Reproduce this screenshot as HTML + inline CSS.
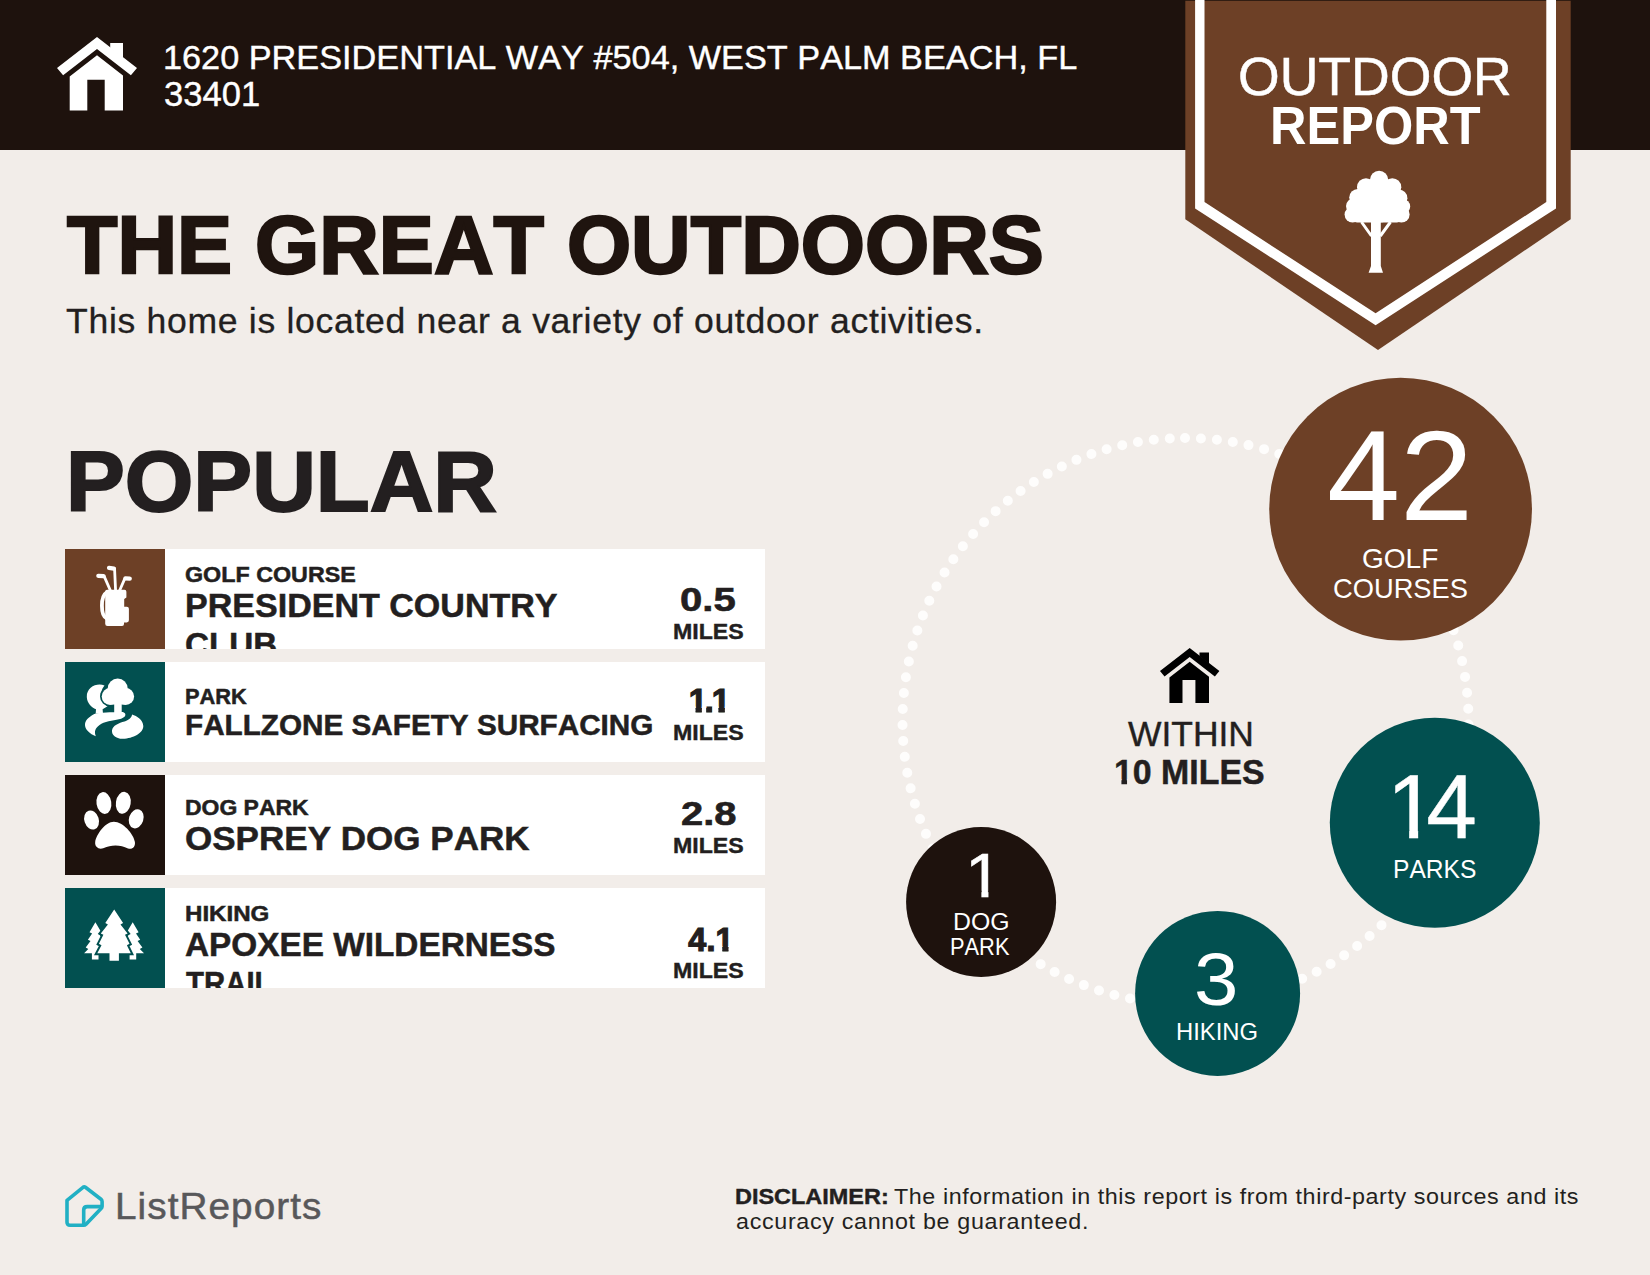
<!DOCTYPE html><html lang="en"><head><meta charset="utf-8"><title>Outdoor Report</title>
<style>
*{box-sizing:border-box;margin:0;padding:0}
html,body{width:1650px;height:1275px;overflow:hidden;background:#f2ede9}
body{position:relative;font-family:"Liberation Sans",sans-serif;font-kerning:none;-webkit-font-smoothing:antialiased}
.t{position:absolute;white-space:nowrap;transform-origin:0 50%;display:block}
.abs{position:absolute}
#hdr{position:absolute;left:0;top:0;width:1650px;height:149.5px;background:#1e120d}
.row{position:absolute;left:65px;width:700px;height:100px;background:#fff;overflow:hidden}
.row .ic{position:absolute;left:0;top:0;width:100px;height:100px}
.circ{position:absolute;border-radius:50%}
svg{position:absolute;overflow:visible}
</style></head><body>
<div id="hdr"></div>
<svg style="left:57.3px;top:37.3px" width="80" height="73.6" viewBox="57.3 37.3 80 73.6" fill="#fff"><polygon points="97.3,37.3 137.3,68.2 131.2,75.6 97.3,49.3 63.4,75.6 57.3,68.2"/><polygon points="97.3,55.6 123.3,75.8 123.3,110.9 105,110.9 105,80 87.6,80 87.6,110.9 70,110.9 70,76.8"/><polygon points="110.5,43.3 123.3,43.3 123.3,58.5 110.5,48.5"/></svg>
<span class="t" style="font-size:34.0px;line-height:34px;font-weight:400;color:#fff;-webkit-text-stroke:0.4px #fff;transform:scaleX(1.0080);left:163.09px;top:40.40px;">1620 PRESIDENTIAL WAY #504, WEST PALM BEACH, FL</span>
<span class="t" style="font-size:34.3px;line-height:34px;font-weight:400;color:#fff;-webkit-text-stroke:0.4px #fff;transform:scaleX(1.0076);left:164.38px;top:77.40px;">33401</span>
<svg style="left:0;top:0" width="1650" height="360" viewBox="0 0 1650 360"><polygon fill="#6d4026" points="1185.3,0.7 1570.7,0.7 1570.7,219.3 1378,350 1185.3,219.3"/><path fill="#fff" fill-rule="evenodd" d="M1195.1 0V208.4L1375.6 325.2L1556 208.4V0Z M1204.5 0V202.1L1375.6 313.3L1546.3 202.1V0Z"/><g fill="#fff"><circle cx="1379.1" cy="179.9" r="9.2"/><circle cx="1366" cy="187.2" r="9"/><circle cx="1392.3" cy="187.2" r="9"/><circle cx="1357.8" cy="197.6" r="8.6"/><circle cx="1398.8" cy="198.2" r="8.6"/><circle cx="1353.6" cy="206" r="7.6"/><circle cx="1402.8" cy="206.6" r="7.4"/><circle cx="1352.6" cy="214.6" r="8"/><circle cx="1401.4" cy="214.4" r="8.2"/><ellipse cx="1378" cy="202" rx="24" ry="20.5"/><rect x="1352" y="207" width="50" height="15.4" rx="5"/><path d="M1371 221H1380.8V266L1383 272.7H1368.6L1371 266Z"/></g><path d="M1371.5 236L1361.5 222M1380.3 236L1390.5 222" stroke="#fff" stroke-width="3" fill="none"/></svg>
<span class="t" style="font-size:53.9px;line-height:54px;font-weight:400;color:#fff;-webkit-text-stroke:0.5px #fff;transform:scaleX(0.9940);left:1238.41px;top:49.15px;">OUTDOOR</span>
<span class="t" style="font-size:52.9px;line-height:53px;font-weight:700;color:#fff;transform:scaleX(0.9555);left:1269.92px;top:99.40px;">REPORT</span>
<span class="t" style="font-size:81.8px;line-height:82px;font-weight:700;color:#1f140f;-webkit-text-stroke:2.4px #1f140f;transform:scaleX(1.0092);left:66.97px;top:204.40px;">THE GREAT OUTDOORS</span>
<span class="t" style="font-size:34.9px;line-height:35px;font-weight:400;color:#231f20;-webkit-text-stroke:0.3px #231f20;letter-spacing:0.668px;transform:scaleX(1.0200);left:65.75px;top:302.55px;">This home is located near a variety of outdoor activities.</span>
<span class="t" style="font-size:85.5px;line-height:86px;font-weight:700;color:#231f20;-webkit-text-stroke:2.0px #231f20;transform:scaleX(1.0311);left:65.50px;top:438.50px;">POPULAR</span>
<div class="row" style="top:549px">
<div class="ic"><svg style="left:0;top:0" width="100" height="100" viewBox="65 549 100 100"><rect x="65" y="549" width="100" height="100" fill="#6d4026"/><g fill="none" stroke="#fff" stroke-linecap="round" stroke-linejoin="round"><path stroke-width="2.8" d="M110.6 591L104.2 576.4M115.6 591L114.6 569.2M119.4 591L124.8 578.6"/><path stroke-width="4.2" d="M98.3 575.8L103.6 576.2M109 567.9L114 568.6M125.4 578.3L129.8 578.6"/><path stroke-width="3.8" d="M106.8 592.3C100.3 596 100.3 616 106.8 618.6"/></g><path fill="#fff" d="M107 589.8H124.5Q126.4 589.8 126.4 591.8V597.5L124.2 599V606.7H126.8Q128.9 606.7 128.9 608.8V620.3Q128.9 622.4 126.8 622.4H124V623.9Q124 625.9 122 625.9H107.5Q105.2 625.9 105.2 623.7V591.8Q105.2 589.8 107 589.8Z"/></svg></div>
<span class="t" style="font-size:22.2px;line-height:22px;font-weight:700;color:#231f20;-webkit-text-stroke:0.5px #231f20;transform:scaleX(1.0495);left:120.29px;top:14.65px;">GOLF COURSE</span>
<span class="t" style="font-size:33.0px;line-height:33px;font-weight:700;color:#231f20;-webkit-text-stroke:0.5px #231f20;transform:scaleX(1.0314);left:119.67px;top:40.45px;">PRESIDENT COUNTRY</span>
<span class="t" style="font-size:33.0px;line-height:33px;font-weight:700;color:#231f20;-webkit-text-stroke:0.5px #231f20;transform:scaleX(1.0068);left:120.39px;top:78.85px;">CLUB</span>
<span class="t" style="font-size:34.0px;line-height:34px;font-weight:700;color:#231f20;-webkit-text-stroke:0.6px #231f20;transform:scaleX(1.1785);left:614.62px;top:33.10px;">0.5</span>
<span class="t" style="font-size:21.9px;line-height:22px;font-weight:700;color:#231f20;-webkit-text-stroke:0.4px #231f20;transform:scaleX(1.0573);left:607.65px;top:71.70px;">MILES</span>
</div>
<div class="row" style="top:662px">
<div class="ic"><svg style="left:0;top:0" width="100" height="100" viewBox="-10 -10 100 100"><rect x="-10" y="-10" width="100" height="100" fill="#025050"/><g fill="#fff"><path d="M29.5 13.5C22 10.5 11.5 15 11.8 25C12 31 16.5 35.5 21 37.2L20.7 41.5L28 41.8L27.6 37.3L32.5 34.2C26 30 23.5 21 29.5 13.5Z"/><g stroke="#025050" stroke-width="3.4"><circle cx="42.7" cy="16.6" r="10"/><circle cx="35.2" cy="24.4" r="8.5"/><circle cx="50.6" cy="24.4" r="8.5"/></g><circle cx="42.7" cy="16.6" r="10"/><circle cx="35.2" cy="24.4" r="8.5"/><circle cx="50.6" cy="24.4" r="8.5"/><rect x="36" y="20" width="14" height="12.5"/><rect x="39.2" y="30" width="7.5" height="12"/><path d="M20.6 41.5C30 40 40 40.3 46.7 40C50 40 51.5 42.5 49.5 44.8C46 48 38 48 31 50C24 52 20.5 56 20 59.5C19.8 61.5 20.5 63 20.8 64.2C15 62 9.5 57.5 10 52C10.5 47 16 43.5 20.6 41.5Z"/><path d="M57 42.6C62 44 68 48 68.3 54C68.5 61 58 66.5 48 66.8C41 67 36.5 63 37 58.5C37.5 53.5 44 51 49.5 49.5C53.5 48.3 56.8 46 57 42.6Z"/></g></svg></div>
<span class="t" style="font-size:21.8px;line-height:22px;font-weight:700;color:#231f20;-webkit-text-stroke:0.5px #231f20;transform:scaleX(0.9998);left:120.49px;top:23.65px;">PARK</span>
<span class="t" style="font-size:28.8px;line-height:29px;font-weight:700;color:#231f20;-webkit-text-stroke:0.5px #231f20;transform:scaleX(1.0309);left:119.96px;top:48.85px;">FALLZONE SAFETY SURFACING</span>
<span class="t" style="font-size:33.0px;line-height:33px;font-weight:700;color:#231f20;-webkit-text-stroke:1.2px #231f20;letter-spacing:-2.298px;clip-path:polygon(-10.0px -10.0px,59.0px -10.0px,59.0px 39.0px,42.5px 39.0px,42.5px 22.7px,36.1px 22.7px,36.1px 39.0px,29.7px 39.0px,29.7px 22.7px,23.7px 22.7px,23.7px 39.0px,17.5px 39.0px,17.5px 22.7px,13.1px 22.7px,13.1px 39.0px,6.8px 39.0px,6.8px 22.7px,-0.0px 22.7px,-0.0px 39.0px,-10.0px 39.0px);left:623.74px;top:21.90px;">1.1</span>
<span class="t" style="font-size:21.8px;line-height:22px;font-weight:700;color:#231f20;-webkit-text-stroke:0.4px #231f20;transform:scaleX(1.0621);left:607.65px;top:60.00px;">MILES</span>
</div>
<div class="row" style="top:775px">
<div class="ic"><svg style="left:0;top:0" width="100" height="100" viewBox="-10 -10 100 100"><rect x="-10" y="-10" width="100" height="100" fill="#1e120d"/><g fill="#fff"><ellipse cx="16.6" cy="35" rx="7.2" ry="9.8" transform="rotate(-18 16.6 35)"/><ellipse cx="28.9" cy="18" rx="7.4" ry="11" transform="rotate(-9 28.9 18)"/><ellipse cx="48.3" cy="17.8" rx="7.4" ry="11" transform="rotate(9 48.3 17.8)"/><ellipse cx="61.2" cy="33.8" rx="7.2" ry="9.8" transform="rotate(18 61.2 33.8)"/><path d="M38.9 36.8C30 36.8 21.2 50 20.2 57C19.6 62 24 64.8 28.2 63.2C33 61.4 36 60.4 40.5 60.4C45 60.4 49 61.6 53 63.4C57 65 60.6 62 59.9 57C58.6 49 48 36.8 38.9 36.8Z"/></g></svg></div>
<span class="t" style="font-size:21.9px;line-height:22px;font-weight:700;color:#231f20;-webkit-text-stroke:0.5px #231f20;transform:scaleX(1.0477);left:119.52px;top:22.35px;">DOG PARK</span>
<span class="t" style="font-size:33.1px;line-height:33px;font-weight:700;color:#231f20;-webkit-text-stroke:0.5px #231f20;transform:scaleX(1.0591);left:119.61px;top:47.25px;">OSPREY DOG PARK</span>
<span class="t" style="font-size:34.0px;line-height:34px;font-weight:700;color:#231f20;-webkit-text-stroke:0.6px #231f20;transform:scaleX(1.1745);left:615.92px;top:21.30px;">2.8</span>
<span class="t" style="font-size:21.8px;line-height:22px;font-weight:700;color:#231f20;-webkit-text-stroke:0.4px #231f20;transform:scaleX(1.0621);left:607.65px;top:60.30px;">MILES</span>
</div>
<div class="row" style="top:888px">
<div class="ic"><svg style="left:0;top:0" width="100" height="100" viewBox="-10 -10 100 100"><rect x="-10" y="-10" width="100" height="100" fill="#025050"/><g fill="#fff"><polygon points="20.4,24.2 26.3,34.2 23.7,35.6 27.9,41.7 25.3,43.1 30.1,49.6 27.5,51.0 31.7,55.2 23.5,55.2 23.5,61.5 16.9,61.5 16.9,55.2 9.1,55.2 13.3,51.0 10.7,49.6 15.5,43.1 12.9,41.7 17.1,35.6 14.5,34.2"/><polygon points="57.7,24.2 63.6,34.2 61.0,35.6 65.2,41.7 62.6,43.1 67.4,49.6 64.8,51.0 69.0,55.2 61.2,55.2 61.2,61.5 54.6,61.5 54.6,55.2 46.4,55.2 50.6,51.0 48.0,49.6 52.8,43.1 50.2,41.7 54.4,35.6 51.8,34.2"/><polygon stroke="#025050" stroke-width="4" paint-order="stroke" points="39.2,11.6 48.1,25.1 45.5,26.5 52.6,35.4 50.0,36.8 54.5,45.8 51.9,47.2 55.8,55.2 43.9,55.2 43.9,62.7 34.5,62.7 34.5,55.2 22.3,55.2 26.5,47.2 23.9,45.8 28.4,36.8 25.8,35.4 32.9,26.5 30.3,25.1"/></g></svg></div>
<span class="t" style="font-size:21.9px;line-height:22px;font-weight:700;color:#231f20;-webkit-text-stroke:0.5px #231f20;transform:scaleX(1.1012);left:120.04px;top:15.05px;">HIKING</span>
<span class="t" style="font-size:32.8px;line-height:33px;font-weight:700;color:#231f20;-webkit-text-stroke:0.5px #231f20;transform:scaleX(1.0166);left:120.22px;top:40.35px;">APOXEE WILDERNESS</span>
<span class="t" style="font-size:33.0px;line-height:33px;font-weight:700;color:#231f20;-webkit-text-stroke:0.5px #231f20;transform:scaleX(0.8908);left:120.92px;top:79.15px;">TRAIL</span>
<span class="t" style="font-size:32.3px;line-height:32px;font-weight:700;color:#231f20;-webkit-text-stroke:1.2px #231f20;letter-spacing:0.190px;clip-path:polygon(-10.0px -10.0px,65.5px -10.0px,65.5px 38.0px,46.5px 38.0px,46.5px 21.8px,40.2px 21.8px,40.2px 38.0px,34.0px 38.0px,34.0px 21.8px,27.3px 21.8px,27.3px 38.0px,-10.0px 38.0px);left:623.31px;top:36.20px;">4.1</span>
<span class="t" style="font-size:21.8px;line-height:22px;font-weight:700;color:#231f20;-webkit-text-stroke:0.4px #231f20;transform:scaleX(1.0621);left:607.65px;top:71.90px;">MILES</span>
</div>
<svg style="left:0;top:0" width="1650" height="1275" viewBox="0 0 1650 1275"><circle cx="1185.5" cy="721" r="283" fill="none" stroke="#fefdfc" stroke-width="10" stroke-linecap="round" stroke-dasharray="0 16.019" transform="rotate(-90.1 1185.5 721)"/><circle cx="1400.6" cy="509.1" r="131.4" fill="#6d4026"/><circle cx="1434.8" cy="822.8" r="105" fill="#025050"/><circle cx="1217.6" cy="993.4" r="82.5" fill="#025050"/><circle cx="981.1" cy="902" r="75" fill="#1e120d"/></svg>
<svg style="left:1160.3px;top:648px" width="59.4" height="55" viewBox="57.3 37.3 80 73.6" preserveAspectRatio="none" fill="#000"><polygon points="97.3,37.3 137.3,68.2 131.2,75.6 97.3,49.3 63.4,75.6 57.3,68.2"/><polygon points="97.3,55.6 123.3,75.8 123.3,110.9 105,110.9 105,80 87.6,80 87.6,110.9 70,110.9 70,76.8"/><polygon points="110.5,43.3 123.3,43.3 123.3,58.5 110.5,48.5"/></svg>
<span class="t" style="font-size:34.3px;line-height:34px;font-weight:400;color:#231f20;-webkit-text-stroke:0.4px #231f20;transform:scaleX(1.0330);left:1128.04px;top:716.80px;">WITHIN</span>
<span class="t" style="font-size:35.6px;line-height:36px;font-weight:700;color:#231f20;-webkit-text-stroke:0.5px #231f20;transform:scaleX(0.9518);clip-path:polygon(-10.0px -10.0px,178.3px -10.0px,178.3px 42.0px,20.6px 42.0px,20.6px 24.8px,13.7px 24.8px,13.7px 42.0px,7.8px 42.0px,7.8px 24.8px,0.5px 24.8px,0.5px 42.0px,-10.0px 42.0px);left:1114.43px;top:754.15px;">10 MILES</span>
<span class="t" style="font-size:127.6px;line-height:128px;font-weight:400;color:#fff;transform:scaleX(1.0303);left:1326.78px;top:412.40px;">42</span>
<span class="t" style="font-size:27.8px;line-height:28px;font-weight:400;color:#fff;transform:scaleX(1.0085);left:1361.59px;top:545.00px;">GOLF</span>
<span class="t" style="font-size:27.9px;line-height:28px;font-weight:400;color:#fff;transform:scaleX(0.9787);left:1332.61px;top:574.70px;">COURSES</span>
<span class="t" style="font-size:91.0px;line-height:91px;font-weight:400;color:#fff;-webkit-text-stroke:0.4px #fff;letter-spacing:-11.200px;clip-path:polygon(-10.0px -10.0px,98.8px -10.0px,98.8px 97.0px,47.9px 97.0px,47.9px 68.7px,31.4px 68.7px,31.4px 97.0px,22.4px 97.0px,22.4px 68.7px,5.2px 68.7px,5.2px 97.0px,-10.0px 97.0px);left:1386.75px;top:761.10px;">14</span>
<span class="t" style="font-size:26.7px;line-height:27px;font-weight:400;color:#fff;transform:scaleX(0.9219);left:1392.98px;top:855.50px;">PARKS</span>
<span class="t" style="font-size:75.0px;line-height:75px;font-weight:400;color:#fff;transform:scaleX(1.0630);left:1194.46px;top:941.70px;">3</span>
<span class="t" style="font-size:23.8px;line-height:24px;font-weight:400;color:#fff;transform:scaleX(0.9993);left:1176.05px;top:1019.50px;">HIKING</span>
<span class="t" style="font-size:63.7px;line-height:64px;font-weight:400;color:#fff;-webkit-text-stroke:0.5px #fff;transform:scaleX(1.0567);clip-path:polygon(-10.0px -10.0px,55.4px -10.0px,55.4px 70.0px,34.1px 70.0px,34.1px 47.7px,22.2px 47.7px,22.2px 70.0px,15.5px 70.0px,15.5px 47.7px,3.1px 47.7px,3.1px 70.0px,-10.0px 70.0px);left:964.58px;top:843.05px;">1</span>
<span class="t" style="font-size:23.3px;line-height:23px;font-weight:400;color:#fff;transform:scaleX(1.0663);left:952.56px;top:910.50px;">DOG</span>
<span class="t" style="font-size:23.5px;line-height:24px;font-weight:400;color:#fff;transform:scaleX(0.9288);left:950.21px;top:934.60px;">PARK</span>
<svg style="left:55px;top:1175px" width="60" height="60" viewBox="0 0 60 60" fill="none" stroke="#21b0c4" stroke-width="3.6" stroke-linejoin="round" stroke-linecap="round"><path d="M12 25.3L28 12.3Q29.2 11.4 30.4 12.3L46 24.2Q47.1 25.1 47.1 26.6V31.2Q47.1 32.6 46.1 33.6L31 49.2Q30 50.2 28.6 50.2H15Q12 50.2 12 47.2Z"/><path d="M46.4 31.6H32.2Q28.7 31.6 28.7 35.1V48.9"/></svg>
<span class="t" style="font-size:36.9px;line-height:37px;font-weight:400;color:#58585a;-webkit-text-stroke:0.5px #58585a;letter-spacing:1.002px;transform:scaleX(1.0500);left:114.67px;top:1187.55px;">ListReports</span>
<span class="t" style="font-size:21.9px;line-height:22px;font-weight:700;color:#231f20;-webkit-text-stroke:0.4px #231f20;transform:scaleX(1.0715);left:734.63px;top:1185.80px;">DISCLAIMER:</span>
<span class="t" style="font-size:22.4px;line-height:22px;font-weight:400;color:#231f20;letter-spacing:0.552px;transform:scaleX(1.0400);left:894.38px;top:1186.10px;">The information in this report is from third-party sources and its</span>
<span class="t" style="font-size:22.4px;line-height:22px;font-weight:400;color:#231f20;letter-spacing:0.652px;transform:scaleX(1.0400);left:735.61px;top:1211.00px;">accuracy cannot be guaranteed.</span>
</body></html>
